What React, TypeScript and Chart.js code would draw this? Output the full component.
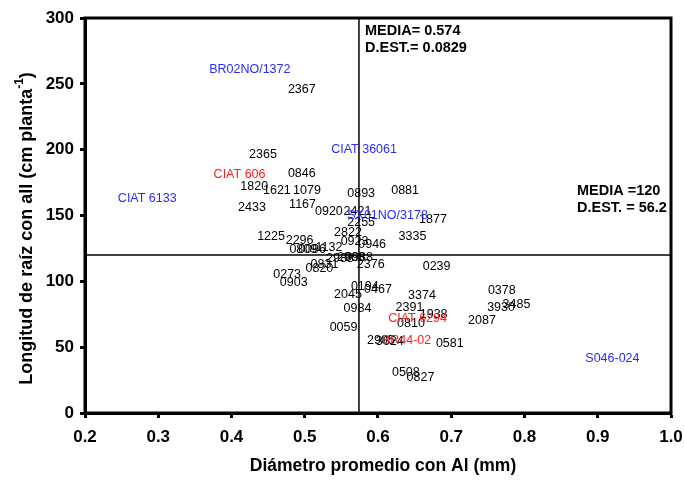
import React, { useEffect, useRef } from "react";
import { Chart, registerables } from "chart.js";

Chart.register(...registerables);

// Hybrids (black labels)
const hybridNames = [
  "2367", "2365", "0846", "1820", "1621", "1079", "0893", "0881", "1167", "2433",
  "0920", "2421", "2255", "1877", "2822", "3335", "1225", "2296", "0923", "0946",
  "0809", "0096", "1132", "0831", "0820", "2988", "2968", "0988", "2376", "0239",
  "0273", "0903", "0378", "0194", "0467", "2045", "3374", "3930", "3485", "2391",
  "0984", "1938", "2087", "0810", "0059", "2905", "3624", "0581", "0508", "0827",
];
const hybridX = [
  0.496, 0.443, 0.496, 0.431, 0.462, 0.503, 0.577, 0.637, 0.497, 0.428,
  0.533, 0.572, 0.577, 0.675, 0.559, 0.647, 0.454, 0.493, 0.568, 0.592,
  0.498, 0.510, 0.533, 0.527, 0.520, 0.548, 0.563, 0.574, 0.590, 0.680,
  0.476, 0.485, 0.769, 0.582, 0.600, 0.559, 0.660, 0.768, 0.789, 0.643,
  0.572, 0.676, 0.742, 0.645, 0.553, 0.604, 0.616, 0.698, 0.638, 0.658,
];
const hybridY = [
  246, 196, 182, 172, 169, 169, 167, 169, 158, 156,
  153, 153, 145, 147, 137, 134, 134, 131, 130, 128,
  124, 124, 126, 113, 110, 117, 118, 118, 113, 111,
  105, 99, 93, 96, 94, 90, 89, 80, 82, 80,
  79, 75, 70, 68, 65, 55, 54, 53, 31, 27,
];

// Checks (blue labels)
const checkNames = ["BR02NO/1372", "CIAT 36061", "CIAT 6133", "SX01NO/3178", "S046-024"];
const checkX = [0.425, 0.581, 0.285, 0.613, 0.920];
const checkY = [261, 200, 163, 150, 41];

// Parents (red labels)
const parentNames = ["CIAT 606", "CIAT 6294", "BR44-02"];
const parentX = [0.411, 0.654, 0.639];
const parentY = [181, 72, 55];

const meanX = 0.574;
const sdX = 0.0829;
const meanY = 120;
const sdY = 56.2;

const xTicks = [0.2, 0.3, 0.4, 0.5, 0.6, 0.7, 0.8, 0.9, 1.0];
const yTicks = [0, 50, 100, 150, 200, 250, 300];

const FONT = "'Liberation Sans', Arial, sans-serif";

const toPts = (xs: number[], ys: number[]) => xs.map((x, i) => ({ x, y: ys[i] }));

const labelPlugin = {
  id: "pointLabels",
  afterDatasetsDraw(chart: any) {
    const ctx = chart.ctx;
    ctx.save();
    ctx.textAlign = "center";
    ctx.textBaseline = "middle";
    ctx.font = `12.5px ${FONT}`;
    chart.data.datasets.forEach((ds: any, di: number) => {
      if (!ds.names) return;
      const meta = chart.getDatasetMeta(di);
      ctx.fillStyle = ds.textColor;
      meta.data.forEach((el: any, i: number) => {
        ctx.fillText(ds.names[i], el.x, el.y);
      });
    });
    ctx.restore();
  },
  afterDraw(chart: any) {
    const ctx = chart.ctx;
    const { left, right, top, bottom } = chart.chartArea;
    const xs = chart.scales.x;
    const ys = chart.scales.y;
    ctx.save();
    // frame
    ctx.strokeStyle = "#000";
    ctx.lineWidth = 3;
    ctx.strokeRect(left, top, right - left, bottom - top);
    // annotations
    ctx.fillStyle = "#000";
    ctx.font = `bold 14.5px ${FONT}`;
    ctx.textBaseline = "middle";
    ctx.textAlign = "left";
    const mx = xs.getPixelForValue(meanX) + 6;
    ctx.fillText(`MEDIA= ${meanX}`, mx, top + 13);
    ctx.fillText(`D.EST.= ${sdX}`, mx, top + 30);
    const hy = ys.getPixelForValue(meanY);
    ctx.fillText(`MEDIA =${meanY}`, right - 94, hy - 64);
    ctx.fillText(`D.EST. = ${sdY}`, right - 94, hy - 47);
    // x title
    ctx.font = `bold 17.5px ${FONT}`;
    ctx.textAlign = "center";
    ctx.fillText("Diámetro promedio con Al (mm)", (left + right) / 2 + 5, 466);
    // y title with superscript
    ctx.translate(27, (top + bottom) / 2 + 13);
    ctx.rotate(-Math.PI / 2);
    const main = "Longitud de raíz con all (cm planta";
    const sup = "-1";
    const end = ")";
    ctx.font = `bold 18px ${FONT}`;
    const wMain = ctx.measureText(main).width;
    const wEnd = ctx.measureText(end).width;
    ctx.font = `bold 12px ${FONT}`;
    const wSup = ctx.measureText(sup).width;
    const total = wMain + wSup + wEnd;
    let cx = -total / 2;
    ctx.textAlign = "left";
    ctx.font = `bold 18px ${FONT}`;
    ctx.fillText(main, cx, 0);
    cx += wMain;
    ctx.font = `bold 12px ${FONT}`;
    ctx.fillText(sup, cx, -7);
    cx += wSup;
    ctx.font = `bold 18px ${FONT}`;
    ctx.fillText(end, cx, 0);
    ctx.restore();
  },
};

export default function App() {
  const ref = useRef<HTMLCanvasElement | null>(null);
  useEffect(() => {
    document.body.style.margin = "0";
    if (!ref.current) return;
    const chart = new Chart(ref.current, {
      type: "scatter",
      data: {
        datasets: [
          {
            data: [{ x: meanX, y: 0 }, { x: meanX, y: 300 }],
            showLine: true,
            borderColor: "#000",
            borderWidth: 1.5,
            pointRadius: 0,
          } as any,
          {
            data: [{ x: 0.2, y: meanY }, { x: 1.0, y: meanY }],
            showLine: true,
            borderColor: "#000",
            borderWidth: 1.5,
            pointRadius: 0,
          } as any,
          { data: toPts(hybridX, hybridY), pointRadius: 0, names: hybridNames, textColor: "#000" } as any,
          { data: toPts(checkX, checkY), pointRadius: 0, names: checkNames, textColor: "#2a2aff" } as any,
          { data: toPts(parentX, parentY), pointRadius: 0, names: parentNames, textColor: "#ff2020" } as any,
        ],
      },
      options: {
        animation: false,
        responsive: false,
        maintainAspectRatio: false,
        layout: { padding: { left: 0, right: 13, top: 18, bottom: 0 } },
        plugins: { legend: { display: false }, tooltip: { enabled: false } },
        scales: {
          x: {
            type: "linear",
            min: 0.2,
            max: 1.0,
            afterBuildTicks: (s: any) => { s.ticks = xTicks.map((v) => ({ value: v })); },
            afterFit: (s: any) => { s.height = 68; s.paddingLeft = 0; s.paddingRight = 0; },
            ticks: {
              color: "#000",
              font: { family: FONT, size: 17, weight: "bold" },
              padding: 9,
              maxRotation: 0,
              callback: (v: any) => Number(v).toFixed(1),
            },
            grid: { display: true, drawOnChartArea: false, drawTicks: true, tickLength: 5, tickWidth: 3, color: "#000" },
            border: { display: true, width: 3, color: "#000" },
          },
          y: {
            type: "linear",
            min: 0,
            max: 300,
            afterBuildTicks: (s: any) => { s.ticks = yTicks.map((v) => ({ value: v })); },
            afterFit: (s: any) => { s.width = 85; s.paddingTop = 0; s.paddingBottom = 0; },
            ticks: {
              color: "#000",
              font: { family: FONT, size: 17, weight: "bold" },
              padding: 6,
            },
            grid: { display: true, drawOnChartArea: false, drawTicks: true, tickLength: 5, tickWidth: 3, color: "#000" },
            border: { display: true, width: 3, color: "#000" },
          },
        },
      },
      plugins: [labelPlugin],
    });
    return () => chart.destroy();
  }, []);
  return (
    <div style={{ width: 684, height: 481 }}>
      <canvas ref={ref} width={684} height={481} style={{ width: 684, height: 481, display: "block" }} />
    </div>
  );
}
